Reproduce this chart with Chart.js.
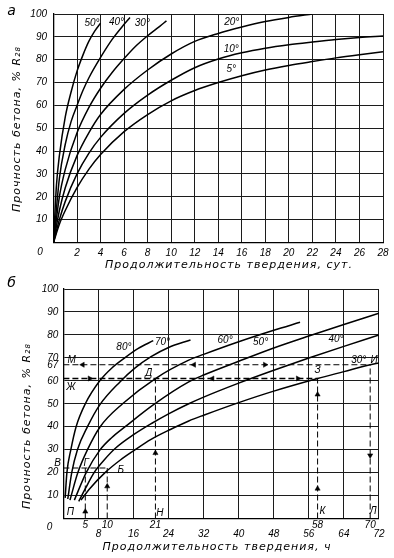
<!DOCTYPE html>
<html><head><meta charset="utf-8">
<script src="https://cdn.jsdelivr.net/npm/chart.js@4/dist/chart.umd.min.js"></script>
<style>
html,body{margin:0;padding:0;background:#fff;}
#wrap{position:relative;width:394px;height:558px;background:#fff;}
canvas{position:absolute;left:0;}
#c1{top:0;} #c2{top:272px;}
</style></head><body>
<div id="wrap"><canvas id="c1" width="394" height="272"></canvas><canvas id="c2" width="394" height="286"></canvas></div>
<script>
// ---------- DATA: chart a (days) ----------
const dayTicks = [0,2,4,6,8,10,12,14,16,18,20,22,24,26,28];
const pctTicks = [0,10,20,30,40,50,60,70,80,90,100];
const d50 = [0,0.25,0.5,1,1.5,2,2.5,3,3.5,4];
const s50 = [0,25,38,55,66,75,82,88,92.5,96];
const d40 = [0,0.5,1,1.5,2,2.5,3,4,5,6,6.5];
const s40 = [0,28,43,53,60,66.5,72,81,89,95.5,98.5];
const d30 = [0,0.5,1,2,3,4,5,6,7,8,9,9.6];
const s30 = [0,20,32,48,59,67.5,74.5,80.5,86,90.5,94.5,97];
const d20 = [0,0.5,1,2,3,4,6,8,10,12,14,16,18,20,22];
const s20 = [0,14,24,38,48,56,67,75.5,82.5,88,91.5,94.3,96.7,98.5,100];
const d10 = [0,0.5,1,2,3,4,6,8,10,12,14,16,18,20,22,24,26,28];
const s10 = [0,10,18,30,39,46,56.5,64.5,71,76.5,80.3,83,85,86.5,87.7,88.8,89.7,90.4];
const d5  = [0,0.5,1,2,3,4,6,8,10,12,14,16,18,20,22,24,26,28];
const s5  = [0,8,14,24,32,38.5,48.5,56,62,66.5,70,73,75.5,77.5,79.2,80.8,82.2,83.5];
const labelTextA = ['50°','40°','30°','20°','10°','5°'];
const labelXA = [3.27,5.35,7.55,15.15,15.1,15.1];
const labelYA = [96,96.5,95.8,96.3,84.7,75.9];

// ---------- DATA: chart b (hours) ----------
const hourTicks = [0,8,16,24,32,40,48,56,64,72];
const specialHours = [5,10,21,58,70];
const pctTicksB = [0,10,20,30,40,50,60,67,70,80,90,100];
const h80 = [0.4,0.8,1.7,2.9,5,8.3,11,14,17,20.5];
const b80 = [9,20,30,40,50,60,65.5,70,74,77.5];
const h70 = [1,1.9,3.2,5.5,8.3,12.9,16.3,20,24,29];
const b70 = [8.5,20,30,40,49.5,59.5,65.5,70.5,74.5,77.8];
const h60 = [1.5,3.3,5.5,8.4,13.5,21,28.6,32,40,48,54];
const b60 = [8,20,30,40,50,61,69,71.5,77,82,85.5];
const h50 = [2.5,5.2,8.4,11,14.1,20.5,28.6,32,40,48,56,64,72];
const b50 = [8,20,30,35.2,40,49.5,59.5,62.5,68.5,74.3,79.5,84.5,89.4];
const h40 = [3.5,5,7,9.3,11.8,16,20.2,24,28.6,32,40,48,56,64,72];
const b40 = [7.5,13,20,25.5,30.5,36.5,41.5,45.6,50,52.9,59,64.6,69.9,75,80];
const h30 = [4,6,9.5,13,16,20,24.4,28.6,32,40,48,58,64,70,72];
const b30 = [8,13,20,25.5,29.5,34.5,38.8,42.5,45,50.5,55.5,61,64,67,67.8];
const guideX = [[0,10],[5,5],[10,10],[21,21],[0,58],[58,58],[0,70],[70,70]];
const guideY = [[22,22],[0,22],[0,22],[0,61],[61,61],[0,61],[67,67],[0,67]];
const arrowX = [5,10,21,58,58,70,6,34,53.5,4.4,29.8,46];
const arrowY = [3,14,28.5,13,54,27.5,61,61,61,67,67,67];
const arrowDir = [0,0,0,0,0,180,90,270,90,270,270,90];
const labelTextB = ['80°','70°','60°','50°','40°','30°','И','З','Д','М','Ж','В','Г','Б','П','Н','К','Л'];
const labelXB = [13.8,22.6,36.9,45,62.2,67.4,70.9,58,19.5,1.9,1.7,-1.3,5.2,13.1,1.6,22,59.1,70.7];
const labelYB = [74.7,76.7,77.6,76.9,78.2,68.8,68.8,64.5,63.2,69,57.3,24.2,24,21.1,2.8,2.3,3,3];

// ---------- helpers ----------
const FAM = '"Liberation Sans", "DejaVu Sans", sans-serif';
const TICKFONT = {family: FAM, size: 10, style: 'italic'};
const LBLFONT = 'italic 10px ' + FAM;
const TITLEFONT = 'italic 11px "DejaVu Sans", sans-serif';
const pts = (xs, ys) => xs.map((x, i) => ({x: x, y: ys[i]}));
const curve = (xs, ys) => ({data: pts(xs, ys), borderColor: '#000', borderWidth: 1.5,
  pointRadius: 0, fill: false, cubicInterpolationMode: 'monotone'});

const textPlugin = {
  id: 'texts',
  afterDatasetsDraw(chart, args, opts) {
    const ctx = chart.ctx, xs = chart.scales.x, ys = chart.scales.y;
    ctx.save();
    ctx.fillStyle = '#000';
    (opts.items || []).forEach(it => {
      ctx.font = it.font || LBLFONT;
      if ('letterSpacing' in ctx) ctx.letterSpacing = it.spacing || '0px';
      ctx.textAlign = it.align || 'center';
      ctx.textBaseline = 'middle';
      const px = it.px != null ? it.px : xs.getPixelForValue(it.x);
      const py = it.py != null ? it.py : ys.getPixelForValue(it.y);
      if (it.rotate) {
        ctx.save(); ctx.translate(px, py); ctx.rotate(it.rotate);
        ctx.fillText(it.text, 0, 0); ctx.restore();
      } else ctx.fillText(it.text, px, py);
    });
    ctx.restore();
  }
};

function baseScale(ticksArr, extra) {
  return Object.assign({
    type: 'linear',
    afterBuildTicks: s => { s.ticks = ticksArr.map(v => ({value: v})); },
    grid: {color: '#1c1c1c', lineWidth: 1, drawTicks: false},
    border: {color: '#000', width: 1.3},
    ticks: {font: TICKFONT, color: '#000', autoSkip: false, maxRotation: 0,
      callback: v => (v === 0 ? '' : String(v))}
  }, extra);
}

// ---------- chart a ----------
const itemsA = [
  {text: 'а', px: 11.5, py: 11, font: 'italic 14px "DejaVu Sans", sans-serif'},
  {text: '0', px: 40, py: 252.7},
  {text: 'Продолжительность твердения, сут.', px: 229, py: 265, font: TITLEFONT, spacing: '1px'},
  {text: 'Прочность бетона, % R₂₈', px: 17.5, py: 129, rotate: -Math.PI / 2, font: TITLEFONT, spacing: '1px'}
].concat(labelTextA.map((t, i) => ({text: t, x: labelXA[i], y: labelYA[i]})));

new Chart(document.getElementById('c1'), {
  type: 'line',
  data: {datasets: [curve(d50, s50), curve(d40, s40), curve(d30, s30), curve(d20, s20), curve(d10, s10), curve(d5, s5)]},
  options: {
    responsive: false, animation: false, devicePixelRatio: 1,
    layout: {padding: {top: 14, right: 11, left: 0, bottom: 0}},
    plugins: {legend: {display: false}, tooltip: {enabled: false}, texts: {items: itemsA}},
    scales: {
      x: baseScale(dayTicks, {min: 0, max: 28, afterFit: s => { s.height = 29.5; }}),
      y: baseScale(pctTicks, {min: 0, max: 100, afterFit: s => { s.width = 53.5; }})
    }
  },
  plugins: [textPlugin]
});
Chart.getChart('c1').options.scales.x.ticks.padding = 4.5;
Chart.getChart('c1').options.scales.y.ticks.padding = 6.5;
Chart.getChart('c1').update();

// ---------- chart b ----------
const guideSets = guideX.map((gx, i) => ({data: pts(gx, guideY[i]), borderColor: '#000',
  borderWidth: (guideY[i][0] === 61 && guideY[i][1] === 61) ? 1.6 : 1, borderDash: [6, 3],
  pointRadius: 0, fill: false}));
const arrowSet = {data: pts(arrowX, arrowY), showLine: false, pointStyle: 'triangle',
  pointRadius: 3, pointRotation: c => arrowDir[c.dataIndex], backgroundColor: '#000', borderColor: '#000', borderWidth: 0.5};

const itemsB = [
  {text: 'б', px: 11.5, py: 11.5, font: 'italic 14px "DejaVu Sans", sans-serif'},
  {text: '0', px: 49.5, py: 255.5},
  {text: 'Продолжительность твердения, ч', px: 217, py: 275, font: TITLEFONT, spacing: '1px'},
  {text: 'Прочность бетона, % R₂₈', px: 27, py: 154, rotate: -Math.PI / 2, font: TITLEFONT, spacing: '1px'}
].concat(specialHours.map(h => ({text: String(h), x: h, py: 253.5})))
 .concat(labelTextB.map((t, i) => ({text: t, x: labelXB[i], y: labelYB[i]})));

new Chart(document.getElementById('c2'), {
  type: 'line',
  data: {datasets: [curve(h80, b80), curve(h70, b70), curve(h60, b60), curve(h50, b50), curve(h40, b40), curve(h30, b30)]
    .concat(guideSets).concat([arrowSet])},
  options: {
    responsive: false, animation: false, devicePixelRatio: 1,
    layout: {padding: {top: 17, right: 12, left: 0, bottom: 0}},
    plugins: {legend: {display: false}, tooltip: {enabled: false}, texts: {items: itemsB}},
    scales: {
      x: baseScale(hourTicks, {min: 0, max: 72, afterFit: s => { s.height = 39.5; }}),
      y: baseScale(pctTicksB, {min: 0, max: 100, afterFit: s => { s.width = 63.4; },
        grid: {drawTicks: false, lineWidth: 1, color: c => (c.tick && c.tick.value === 67 ? 'rgba(0,0,0,0)' : '#1c1c1c')}})
    }
  },
  plugins: [textPlugin]
});
Chart.getChart('c2').options.scales.x.ticks.padding = 9.5;
Chart.getChart('c2').options.scales.y.ticks.padding = 5;
Chart.getChart('c2').update();
</script>
</body></html>
